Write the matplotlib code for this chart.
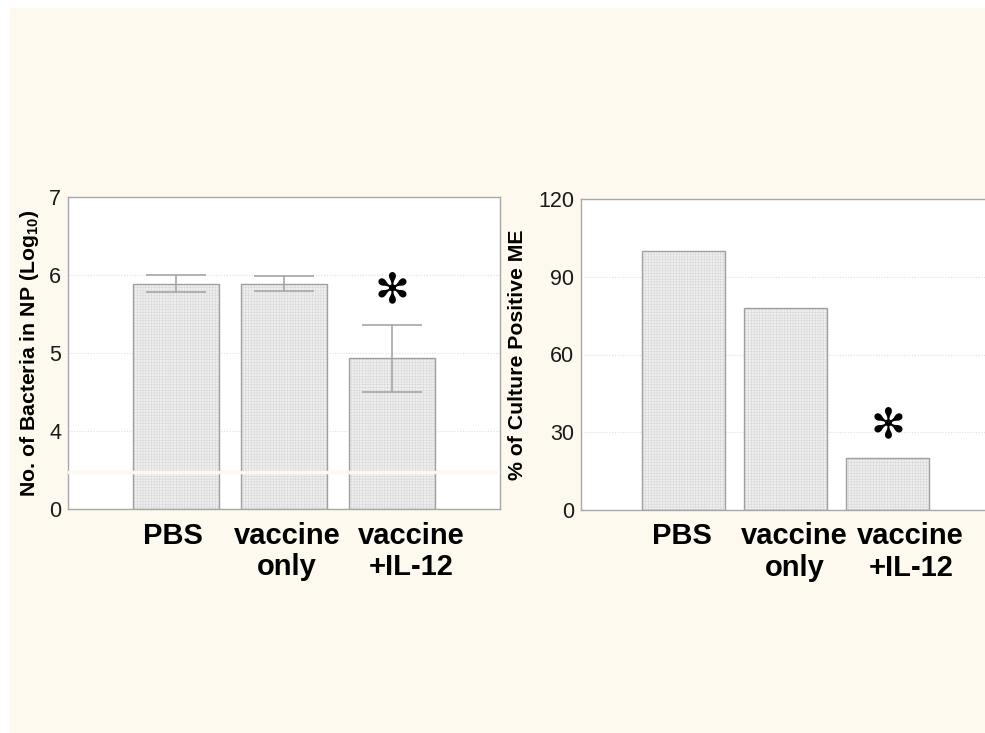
import matplotlib
matplotlib.use("Agg")
import matplotlib.pyplot as plt
import matplotlib.transforms as mtrans
from matplotlib.patches import Rectangle
import numpy as np

plt.rcParams['font.family'] = ['Liberation Sans', 'DejaVu Sans']
plt.rcParams['hatch.linewidth'] = 0.3
plt.rcParams['mathtext.fontset'] = 'custom'
plt.rcParams['mathtext.rm'] = 'Liberation Sans'
plt.rcParams['mathtext.bf'] = 'Liberation Sans:bold'

# ---- data ----
groups = ["PBS", "vaccine\nonly", "vaccine\n+IL-12"]
np_log_means = [5.89, 5.89, 4.93]
np_log_err = [0.11, 0.10, 0.43]
me_positive_pct = [100, 78, 20]
left_ticks = [3, 4, 5, 6, 7]
left_ticklabels = ["0", "4", "5", "6", "7"]
right_ticks = [0, 30, 60, 90, 120]

W, H = 985, 733
fig = plt.figure(figsize=(W / 100, H / 100), dpi=100, facecolor="white")
fig.patches.append(Rectangle((10 / W, 0), 1, 1 - 8 / H, transform=fig.transFigure,
                             facecolor="#fdf9ee", edgecolor="none", zorder=-10))

def ax_rect(x0, y0, x1, y1):
    return [x0 / W, 1 - y1 / H, (x1 - x0) / W, (y1 - y0) / H]

axL = fig.add_axes(ax_rect(68, 197, 500, 509))
axR = fig.add_axes(ax_rect(581, 199, 990, 510))

spine_c = "#a8a8a8"
bar_face = "#efefef"
hatch_c = "#d2d2d2"
x = np.arange(len(groups))

def style(ax, label_shift_px):
    ax.set_facecolor("white")
    for s in ax.spines.values():
        s.set_color(spine_c)
        s.set_linewidth(1.0)
    ax.tick_params(axis="y", length=0, labelsize=15.5, labelcolor="#1a1a1a", pad=5)
    ax.tick_params(axis="x", length=3, direction="in", color=spine_c,
                   labelsize=21, pad=9)
    ax.set_xticks(x)
    ax.set_xticklabels(groups, fontweight="bold", linespacing=1.15)
    for lab, dx in zip(ax.get_xticklabels(), label_shift_px):
        lab.set_transform(lab.get_transform() +
                          mtrans.ScaledTranslation(dx / 100, 0, fig.dpi_scale_trans))
    ax.set_xlim(-1, 3)
    ax.set_axisbelow(True)

def bars(ax, base, heights, width):
    plt.rcParams['hatch.color'] = hatch_c
    ax.bar(x, heights, bottom=base, width=width, color=bar_face, hatch="++++++",
           edgecolor=hatch_c, linewidth=0, zorder=2)
    ax.bar(x, heights, bottom=base, width=width, fill=False,
           edgecolor="#a0a0a0", linewidth=1.0, zorder=3)

# ---- left panel ----
style(axL, [-3, 3, 19])
base = 3
bars(axL, base, [m - base for m in np_log_means], 0.79)
axL.errorbar(x, np_log_means, yerr=np_log_err, fmt="none", ecolor="#a6a6a6",
             elinewidth=1.2, capsize=21.5, capthick=1.2, zorder=4)
axL.set_ylim(3, 7)
axL.set_yticks(left_ticks)
axL.set_yticklabels(left_ticklabels)
for g in [4, 5, 6]:
    axL.axhline(g, color="#dddddd", linestyle=(0, (1, 1.5)), linewidth=0.8, zorder=1)
axL.axhline(3.48, color="#fdf9ee", linewidth=2.5, zorder=6)
axL.set_ylabel("No. of Bacteria in NP (Log$_{\\mathbf{10}}$)", fontsize=15.3,
               fontweight="bold", labelpad=6)
axL.text(2, 5.81, "\u273B", fontsize=30, ha="center", va="center", color="black",
         fontfamily="DejaVu Sans")

# ---- right panel ----
style(axR, [-1, 9, 23])
bars(axR, 0, me_positive_pct, 0.81)
axR.set_ylim(0, 120)
axR.set_yticks(right_ticks)
for g in [30, 60, 90]:
    axR.axhline(g, color="#dddddd", linestyle=(0, (1, 1.5)), linewidth=0.8, zorder=1)
axR.set_ylabel("% of Culture Positive ME", fontsize=15.3, fontweight="bold", labelpad=8)
axR.text(2, 32.8, "\u273B", fontsize=30, ha="center", va="center", color="black",
         fontfamily="DejaVu Sans")

fig.savefig("out.png", dpi=100, facecolor=fig.get_facecolor())
